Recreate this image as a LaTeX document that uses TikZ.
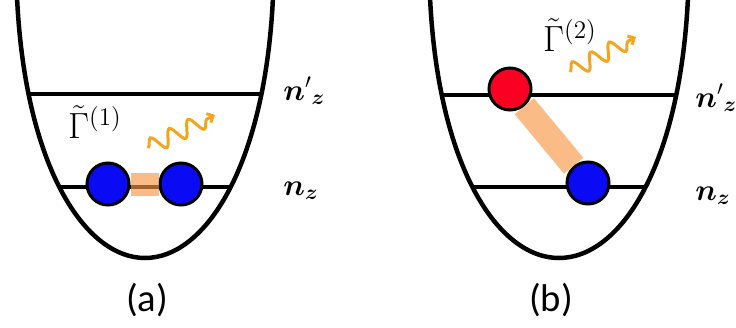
\documentclass[tikz,border=0pt]{standalone}
\usepackage{amsmath}
\usepackage{fontspec}
\newfontfamily\capfont{Carlito}
\usetikzlibrary{decorations.pathmorphing,arrows.meta}
\definecolor{atomblue}{RGB}{10,10,245}
\definecolor{atomred}{RGB}{250,0,35}
\definecolor{bondorange}{RGB}{247,150,70}
\definecolor{photonorange}{RGB}{242,165,30}
\tikzset{
  well/.style={line width=0.09cm},
  level/.style={line width=0.08cm},
  atom/.style={circle,draw,line width=0.06cm,minimum size=0.84cm,inner sep=0pt},
  bond/.style={line width=0.46cm,draw=bondorange,opacity=0.65},
  photon/.style={photonorange,line width=0.06cm,decorate,
    decoration={snake,amplitude=0.16cm,segment length=0.42cm,post length=1.5mm},
    -{Straight Barb[length=1mm,width=2mm]}},
  rate/.style={font=\fontsize{21}{24}\selectfont,inner sep=1pt},
  qnum/.style={font=\fontsize{17}{20}\selectfont,anchor=base west,inner sep=0pt},
  panel/.style={font=\capfont\fontsize{22}{26}\selectfont}
}
\begin{document}
\begin{tikzpicture}
    \useasboundingbox (0,0) rectangle (14.72,6.54);
    % (a) two atoms in n_z
    \draw [level] (0.56,4.66) -- (5.26,4.66);
    \draw [level] (1.2,2.8) -- (4.64,2.8);
    \draw [well] (0.34,6.6) .. controls (0.5,3.2) and (1.7,1.38) .. (2.9,1.38) .. controls (4.1,1.38) and (5.3,3.2) .. (5.46,6.6);
    \node [atom, fill=atomblue] (a1) at (2.16,2.86) {};
    \node [atom, fill=atomblue] (a2) at (3.62,2.86) {};
    \draw [bond] (a1) -- (a2);
    \node [rate] (g1) at (1.9,4.1) {$\tilde{\Gamma}^{(1)}$};
    \draw [photon] (2.96,3.58) -- (4.30,4.24);
    \node [qnum] (nup1) at (5.66,4.54) {${\boldsymbol{n}'}_{\boldsymbol{z}}$};
    \node [qnum] (nlo1) at (5.66,2.64) {$\boldsymbol{n}_{\boldsymbol{z}}$};
    \node [panel] (pa) at (2.94,0.54) {(a)};
    % (b) one atom in n_z, one in n'_z
    \draw [level] (8.84,4.64) -- (13.54,4.64);
    \draw [level] (9.48,2.8) -- (12.92,2.8);
    \draw [well] (8.6,6.6) .. controls (8.76,3.2) and (9.96,1.38) .. (11.18,1.38) .. controls (12.4,1.38) and (13.6,3.2) .. (13.76,6.6);
    \node [atom, fill=atomred] (b1) at (10.2,4.76) {};
    \node [atom, fill=atomblue] (b2) at (11.76,2.88) {};
    \draw [bond, line width=0.5cm] (b1) -- (b2);
    \node [rate] (g2) at (11.4,5.84) {$\tilde{\Gamma}^{(2)}$};
    \draw [photon] (11.4,5.1) -- (12.72,5.8);
    \node [qnum] (nup2) at (13.9,4.40) {${\boldsymbol{n}'}_{\boldsymbol{z}}$};
    \node [qnum] (nlo2) at (13.9,2.54) {$\boldsymbol{n}_{\boldsymbol{z}}$};
    \node [panel] (pb) at (11.02,0.54) {(b)};
\end{tikzpicture}
\end{document}
